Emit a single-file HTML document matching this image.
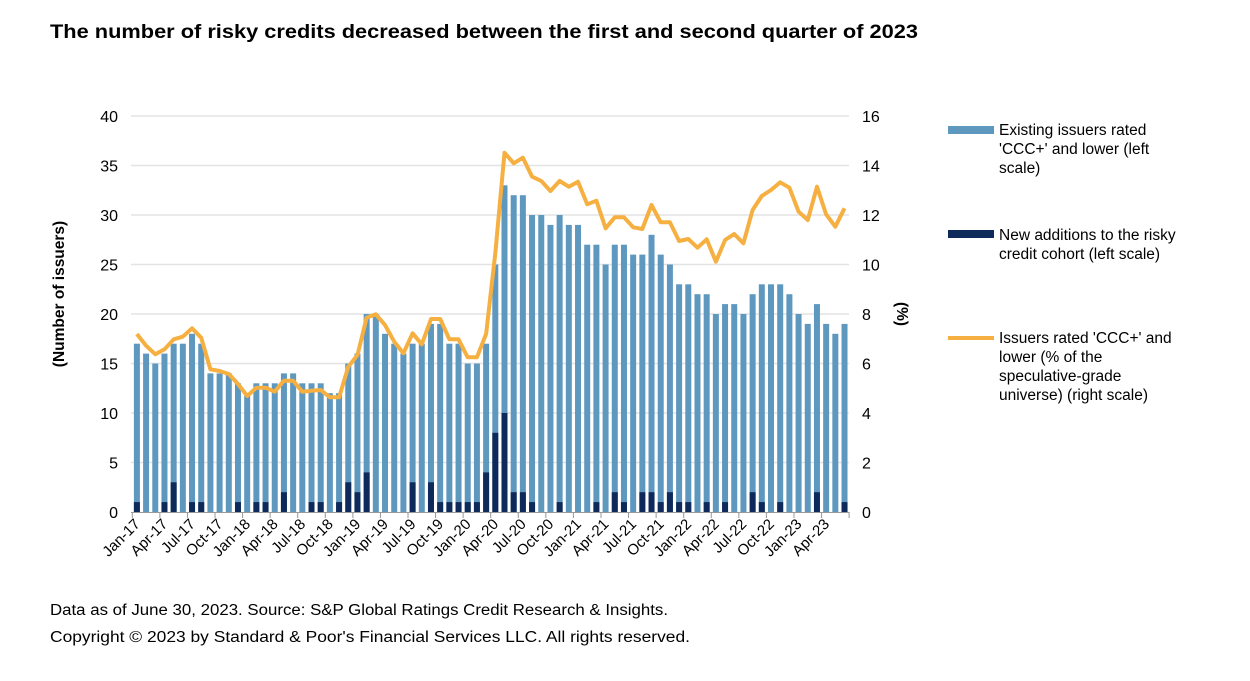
<!DOCTYPE html>
<html><head><meta charset="utf-8"><style>
body{margin:0;background:#fff;width:1250px;height:676px;overflow:hidden;font-family:"Liberation Sans",Arial,sans-serif;}
</style></head><body>
<svg id="c" width="1250" height="676" xmlns="http://www.w3.org/2000/svg" font-family="Liberation Sans, Arial, sans-serif">
<text x="50" y="38" font-size="19" font-weight="bold" fill="#000" textLength="868" lengthAdjust="spacingAndGlyphs">The number of risky credits decreased between the first and second quarter of 2023</text>
<text x="50" y="615" font-size="15.5" fill="#000" textLength="618" lengthAdjust="spacingAndGlyphs">Data as of June 30, 2023. Source: S&amp;P Global Ratings Credit Research &amp; Insights.</text>
<text x="50" y="642" font-size="15.5" fill="#000" textLength="640" lengthAdjust="spacingAndGlyphs">Copyright © 2023 by Standard &amp; Poor's Financial Services LLC. All rights reserved.</text>
<text transform="translate(64,294) rotate(-90)" text-anchor="middle" font-size="15.5" font-weight="bold">(Number of issuers)</text>
<text transform="translate(897,314) rotate(90)" text-anchor="middle" font-size="15.5" font-weight="bold">(%)</text>
<g font-size="15.5">
<rect x="948" y="126" width="46" height="8" fill="#5f98bf"/>
<text x="999" y="135">Existing issuers rated</text><text x="999" y="154">'CCC+' and lower (left</text><text x="999" y="173">scale)</text>
<rect x="948" y="230" width="46" height="8" fill="#0e2a5a"/>
<text x="999" y="240">New additions to the risky</text><text x="999" y="259">credit cohort (left scale)</text>
<rect x="948" y="336" width="46" height="4" fill="#f5b041"/>
<text x="999" y="343">Issuers rated 'CCC+' and</text><text x="999" y="362">lower (% of the</text><text x="999" y="381">speculative-grade</text><text x="999" y="400">universe) (right scale)</text>
</g>
<g id="g"></g>
</svg>
<script>
var tot=[17,16,15,16,17,17,18,17,14,14,14,13,12,13,13,13,14,14,13,13,13,12,12,15,16,20,20,18,17,16,17,17,19,19,17,17,15,15,17,25,33,32,32,30,30,29,30,29,29,27,27,25,27,27,26,26,28,26,25,23,23,22,22,20,21,21,20,22,23,23,23,22,20,19,21,19,18,19];
var nw={0:1,3:1,4:3,6:1,7:1,11:1,13:1,14:1,16:2,19:1,20:1,22:1,23:3,24:2,25:4,30:3,32:3,33:1,34:1,35:1,36:1,37:1,38:4,39:8,40:10,41:2,42:2,43:1,46:1,50:1,52:2,53:1,55:2,56:2,57:1,58:2,59:1,60:1,62:1,64:1,67:2,68:1,70:1,74:2,77:1};
var ly=[334,345.7,354.3,349.3,339.3,336.7,328.3,337.7,369.3,371,374,384,396,387.7,387.7,391.7,380.7,380.7,391.7,390.7,390,397.3,397.3,366.7,355,317.7,314.3,325,341.7,353.3,333.3,344.3,319,319,339.3,339.3,357.3,357.3,334,253.3,152.7,163.3,157.7,176.7,181,191,181,186.7,181.7,204.3,200.7,228.3,217.3,217.3,227.3,229,205,222.3,222.3,241,239,247.7,239.3,261.7,240,234,243.3,210,196,190,182.3,187.7,211.7,220,186.7,214.3,226.7,208.3];
var x0=132.3,w=9.19,y0=512,u=9.9,s='';
for(var k=0;k<=8;k++){var y=y0-49.5*k;
 if(k>0)s+='<line x1="131" x2="849" y1="'+y+'" y2="'+y+'" stroke="#e3e3e3" stroke-width="1.5"/>';
 s+='<text x="118" y="'+(y+6)+'" text-anchor="end" font-size="16">'+(k*5)+'</text>';
 s+='<text x="862" y="'+(y+6)+'" font-size="16">'+(k*2)+'</text>';}
for(var i=0;i<78;i++){var c=x0+w*(i+.5);
 s+='<rect x="'+(c-3)+'" y="'+(y0-tot[i]*u)+'" width="6" height="'+(tot[i]*u)+'" fill="#5f98bf"/>';
 if(nw[i])s+='<rect x="'+(c-3)+'" y="'+(y0-nw[i]*u)+'" width="6" height="'+(nw[i]*u)+'" fill="#0e2a5a"/>';}
s+='<line x1="131" x2="849" y1="512.5" y2="512.5" stroke="#999" stroke-width="1"/>';
var m=['Jan','Apr','Jul','Oct'];
for(var j=0;j<=26;j++){var tx=x0+w*3*j;s+='<line x1="'+tx+'" x2="'+tx+'" y1="512" y2="518" stroke="#999"/>';
 if(j<26){var c=x0+w*(3*j+.5),yr=17+Math.floor(j/4);
 s+='<text transform="translate('+(c+4)+',525) rotate(-45)" text-anchor="end" font-size="15">'+m[j%4]+'-'+yr+'</text>';}}
var p='';for(var i=0;i<78;i++)p+=(x0+w*(i+.5)).toFixed(1)+','+ly[i]+' ';
s+='<polyline points="'+p+'" fill="none" stroke="#f5b041" stroke-width="4" stroke-linejoin="round"/>';
document.getElementById('g').innerHTML=s;
</script>
</body></html>
